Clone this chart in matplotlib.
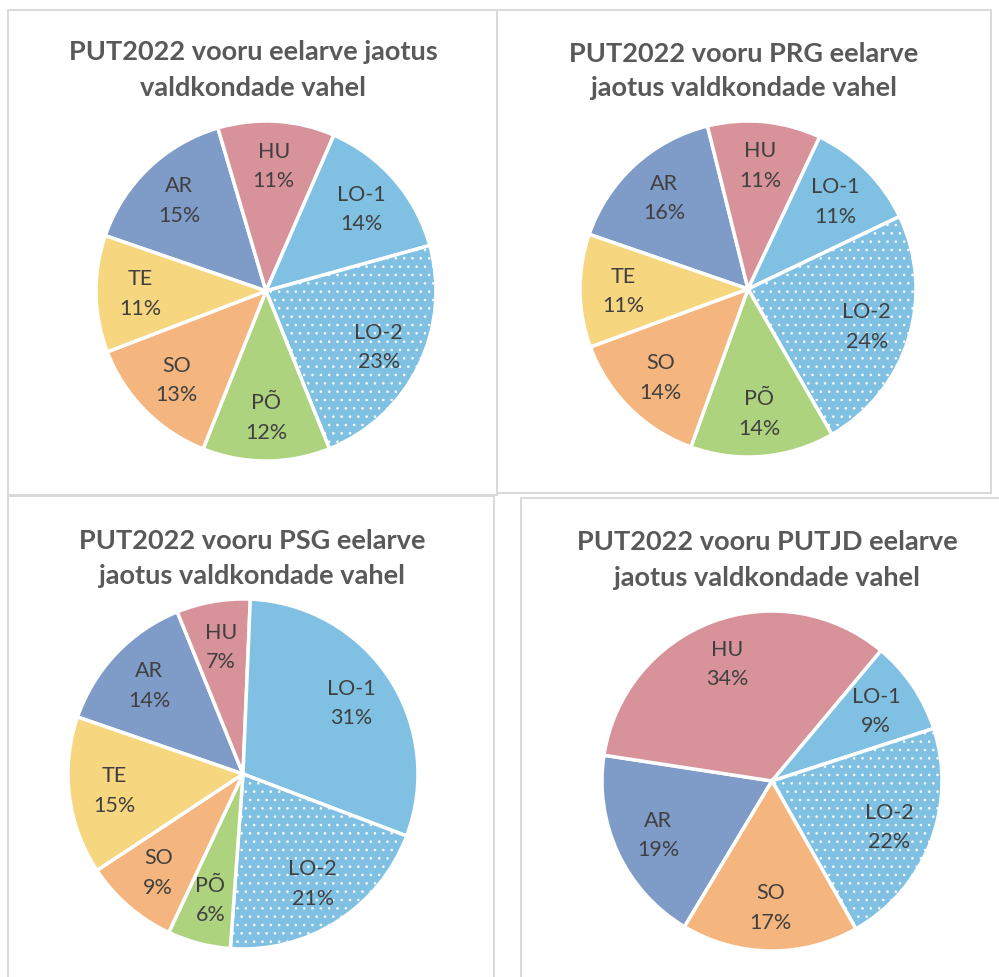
import matplotlib
matplotlib.use("Agg")
import matplotlib.pyplot as plt
from matplotlib.patches import Rectangle

W, H = 999, 978

# chart data (percent shares as printed on the slices)
titles = [
    "PUT2022 vooru eelarve jaotus\nvaldkondade vahel",
    "PUT2022 vooru PRG eelarve\njaotus valdkondade vahel",
    "PUT2022 vooru PSG eelarve\njaotus valdkondade vahel",
    "PUT2022 vooru PUTJD eelarve\njaotus valdkondade vahel",
]
cats_all = ["AR", "HU", "LO-1", "LO-2", "PÕ", "SO", "TE"]
cats_putjd = ["AR", "HU", "LO-1", "LO-2", "SO"]
share_put = [15, 11, 14, 23, 12, 13, 11]
share_prg = [16, 11, 11, 24, 14, 14, 11]
share_psg = [14, 7, 31, 21, 6, 9, 15]
share_putjd = [19, 34, 9, 22, 17]

colors = {
    "AR": "#7F9BC8",
    "HU": "#D8939A",
    "LO-1": "#80C1E3",
    "LO-2": "#80C1E3",
    "PÕ": "#AED37F",
    "SO": "#F4B67E",
    "TE": "#F7D680",
}

plt.rcParams["hatch.linewidth"] = 0.6

fig = plt.figure(figsize=(W / 100, H / 100), dpi=100)

def px_rect(x0, y0, x1, y1):
    r = Rectangle((x0 / W, 1 - y1 / H), (x1 - x0) / W, (y1 - y0) / H,
                  transform=fig.transFigure, fill=False,
                  edgecolor="#D9D9D9", linewidth=1.4, clip_on=False)
    fig.add_artist(r)

# chart boxes
px_rect(8, 11, 497, 496)
px_rect(497, 11, 991, 494)
px_rect(8, 497, 494, 990)
px_rect(521, 499, 1015, 990)

# (categories, values, centre x, centre y, radius, start angle, title pos)
charts = [
    (cats_all, share_put, 266, 292, 170, 161, (253, 70)),
    (cats_all, share_prg, 748, 290, 168, 161, (744, 71)),
    (cats_all, share_psg, 243, 775, 175, 161, (252, 559)),
    (cats_putjd, share_putjd, 772, 782, 170, 239, (767, 560)),
]

for (cats, vals, cx, cy, r, start, tpos), title in zip(charts, titles):
    ax = fig.add_axes([(cx - r) / W, 1 - (cy + r) / H, 2 * r / W, 2 * r / H])
    labels = [f"{c}\n{v}%" for c, v in zip(cats, vals)]
    wedges, texts = ax.pie(
        vals, labels=labels, colors=[colors[c] for c in cats],
        startangle=start, counterclock=False, labeldistance=0.74,
        wedgeprops=dict(edgecolor="white", linewidth=2.5),
        textprops=dict(ha="center", va="center", fontsize=15.5,
                       color="#404040", family="Lato", linespacing=1.6),
    )
    for w, c in zip(wedges, cats):
        if c == "LO-2":
            w.set_hatch("..")
    ax.set_xlim(-1, 1)
    ax.set_ylim(-1, 1)
    ax.set_aspect("equal")
    ax.axis("off")
    fig.text(tpos[0] / W, 1 - tpos[1] / H, title, ha="center", va="center",
             fontsize=19.5, fontweight="bold", color="#595959", family="Lato",
             linespacing=1.55)

fig.savefig("out.png", dpi=100)
